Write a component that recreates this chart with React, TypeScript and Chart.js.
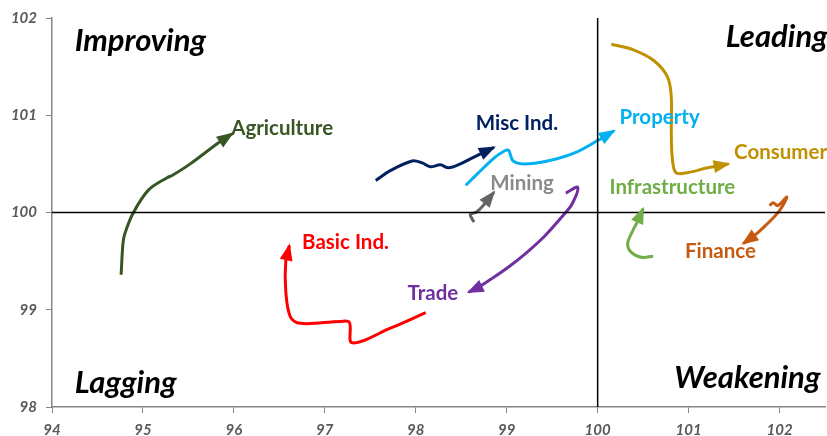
import React, { useEffect, useRef } from "react";
import { Chart, registerables } from "chart.js";

Chart.register(...registerables);

// ---- Data (x = RS-Ratio, y = RS-Momentum) ----
const xTicks = [94, 95, 96, 97, 98, 99, 100, 101, 102];
const yTicks = [98, 99, 100, 101, 102];

const agriculture = [
  [94.76, 99.36], [94.78, 99.68], [94.8, 99.78], [94.89, 99.99], [95.06, 100.23],
  [95.27, 100.36], [95.32, 100.38], [95.52, 100.5], [95.82, 100.71], [95.98, 100.81],
];
const basicInd = [
  [98.11, 98.97], [97.72, 98.81], [97.3, 98.66], [97.27, 98.87], [97.17, 98.88],
  [96.73, 98.86], [96.62, 98.93], [96.57, 99.2], [96.57, 99.49], [96.61, 99.66],
];
const miscInd = [
  [97.56, 100.33], [97.72, 100.43], [97.96, 100.53], [98.07, 100.51], [98.16, 100.47],
  [98.27, 100.49], [98.36, 100.46], [98.49, 100.5], [98.64, 100.57], [98.86, 100.67],
];
const property = [
  [98.55, 100.28], [98.68, 100.4], [98.86, 100.56], [98.97, 100.63], [99.02, 100.64],
  [99.07, 100.53], [99.19, 100.5], [99.45, 100.53], [99.74, 100.61], [100.0, 100.74],
  [100.18, 100.84],
];
const mining = [
  [98.64, 99.9], [98.6, 99.98], [98.66, 100.0], [98.74, 100.07], [98.86, 100.21],
];
const trade = [
  [99.65, 100.2], [99.78, 100.26], [99.72, 100.09], [99.62, 99.97], [99.41, 99.75],
  [99.21, 99.58], [99.02, 99.44], [98.82, 99.31], [98.67, 99.22], [98.58, 99.18],
];
const consumer = [
  [100.15, 101.73], [100.4, 101.67], [100.62, 101.56], [100.77, 101.39], [100.81, 101.18],
  [100.81, 100.84], [100.82, 100.57], [100.86, 100.41], [100.99, 100.41], [101.21, 100.46],
  [101.44, 100.5],
];
const infrastructure = [
  [100.61, 99.55], [100.48, 99.54], [100.37, 99.59], [100.33, 99.68], [100.39, 99.82],
  [100.44, 99.91], [100.5, 100.04],
];
const finance = [
  [101.89, 100.07], [101.93, 100.1], [101.98, 100.07], [102.08, 100.16], [102.0, 100.02],
  [101.85, 99.87], [101.72, 99.76], [101.6, 99.68],
];

const seriesNames = [
  "Agriculture", "Basic Ind.", "Misc Ind.", "Property", "Mining",
  "Trade", "Consumer", "Infrastructure", "Finance",
];
const seriesData = [agriculture, basicInd, miscInd, property, mining, trade, consumer, infrastructure, finance];
const lineColors = ["#375623", "#FF0000", "#002060", "#00B0F0", "#646464", "#7030A0", "#BF9000", "#70AD47", "#C55A11"];
const labelColors = ["#375623", "#FF0000", "#002060", "#00B0F0", "#8A8A8A", "#7030A0", "#BF9000", "#70AD47", "#C55A11"];
// label anchor (left, vertical middle) in data units
const labelAnchors = [
  [95.97, 100.86], [96.75, 99.69], [98.66, 100.92], [100.24, 100.98], [98.82, 100.3],
  [97.91, 99.17], [101.5, 100.62], [100.13, 100.26], [100.96, 99.6],
];

const quadrantNames = ["Improving", "Leading", "Lagging", "Weakening"];
const quadrantAnchors = [
  [94.25, 101.76, "left"], [102.53, 101.8, "right"], [94.25, 98.25, "left"], [102.45, 98.3, "right"],
];

const FONT = "Lato, 'Noto Sans', sans-serif";

const arrowPlugin = {
  id: "arrowsAndLabels",
  afterDatasetsDraw(chart: any) {
    const ctx = chart.ctx;
    const xs = chart.scales.x;
    const ys = chart.scales.y;
    chart.data.datasets.forEach((ds: any, i: number) => {
      if (!ds.arrow) return;
      const pts = chart.getDatasetMeta(i).data;
      const n = pts.length;
      if (n < 2) return;
      const p1 = pts[n - 1];
      let fx = p1.cp1x, fy = p1.cp1y;
      if (fx === undefined || Math.hypot(p1.x - fx, p1.y - fy) < 0.5) {
        fx = pts[n - 2].x; fy = pts[n - 2].y;
      }
      const a = Math.atan2(p1.y - fy, p1.x - fx);
      const L = 15, W = 6.5;
      ctx.save();
      ctx.fillStyle = ds.borderColor;
      ctx.beginPath();
      ctx.moveTo(p1.x + 2 * Math.cos(a), p1.y + 2 * Math.sin(a));
      const bx = p1.x - L * Math.cos(a), by = p1.y - L * Math.sin(a);
      ctx.lineTo(bx + W * Math.cos(a + Math.PI / 2), by + W * Math.sin(a + Math.PI / 2));
      ctx.lineTo(bx + W * Math.cos(a - Math.PI / 2), by + W * Math.sin(a - Math.PI / 2));
      ctx.closePath();
      ctx.fill();
      ctx.restore();
    });
    ctx.save();
    ctx.textBaseline = "middle";
    ctx.textAlign = "left";
    ctx.font = `bold 20.5px ${FONT}`;
    seriesNames.forEach((name, i) => {
      ctx.fillStyle = labelColors[i];
      ctx.fillText(name, xs.getPixelForValue(labelAnchors[i][0]), ys.getPixelForValue(labelAnchors[i][1]));
    });
    ctx.font = `bold italic 31px ${FONT}`;
    ctx.fillStyle = "#000000";
    quadrantNames.forEach((name, i) => {
      const q = quadrantAnchors[i];
      ctx.textAlign = q[2] as CanvasTextAlign;
      ctx.fillText(name, xs.getPixelForValue(q[0] as number), ys.getPixelForValue(q[1] as number));
    });
    ctx.restore();
  },
};

export default function App() {
  const ref = useRef<HTMLCanvasElement>(null);
  useEffect(() => {
    document.body.style.margin = "0";
    const datasets: any[] = [
      {
        data: [{ x: 100, y: 98 }, { x: 100, y: 102 }],
        borderColor: "#000000", borderWidth: 1.5, pointRadius: 0, tension: 0,
      },
      {
        data: [{ x: 94, y: 100 }, { x: 102.5, y: 100 }],
        borderColor: "#000000", borderWidth: 1.5, pointRadius: 0, tension: 0,
      },
    ];
    seriesData.forEach((s, i) => {
      datasets.push({
        label: seriesNames[i],
        data: s.map(([x, y]) => ({ x, y })),
        borderColor: lineColors[i],
        borderWidth: 3,
        pointRadius: 0,
        tension: 0.35,
        arrow: true,
      });
    });
    const tickFont = { family: FONT, size: 15, weight: "bold", style: "italic" };
    const chart = new Chart(ref.current!, {
      type: "line",
      data: { datasets },
      plugins: [arrowPlugin],
      options: {
        animation: false,
        responsive: false,
        maintainAspectRatio: false,
        layout: { padding: { top: 18, right: 2, left: 0, bottom: 0 } },
        plugins: { legend: { display: false }, tooltip: { enabled: false } },
        scales: {
          x: {
            type: "linear",
            min: 94,
            max: 102.5,
            afterBuildTicks: (scale: any) => {
              scale.ticks = xTicks.map((v) => ({ value: v }));
            },
            afterFit: (scale: any) => { scale.height = 29; },
            ticks: { stepSize: 1, includeBounds: false, color: "#595959", font: tickFont, padding: 8 },
            grid: { drawOnChartArea: false, drawTicks: true, tickLength: 6, color: "#868686" },
            border: { display: true, color: "#868686", width: 1.5 },
          },
          y: {
            type: "linear",
            min: 98,
            max: 102,
            afterBuildTicks: (scale: any) => {
              scale.ticks = yTicks.map((v) => ({ value: v }));
            },
            afterFit: (scale: any) => { scale.width = 52; },
            ticks: { stepSize: 1, includeBounds: false, color: "#595959", font: tickFont, padding: 9 },
            grid: { drawOnChartArea: false, drawTicks: true, tickLength: 6, color: "#868686" },
            border: { display: true, color: "#868686", width: 1.5 },
          },
        },
      } as any,
    });
    return () => chart.destroy();
  }, []);
  return <canvas ref={ref} width={827} height={436} style={{ display: "block" }} />;
}
